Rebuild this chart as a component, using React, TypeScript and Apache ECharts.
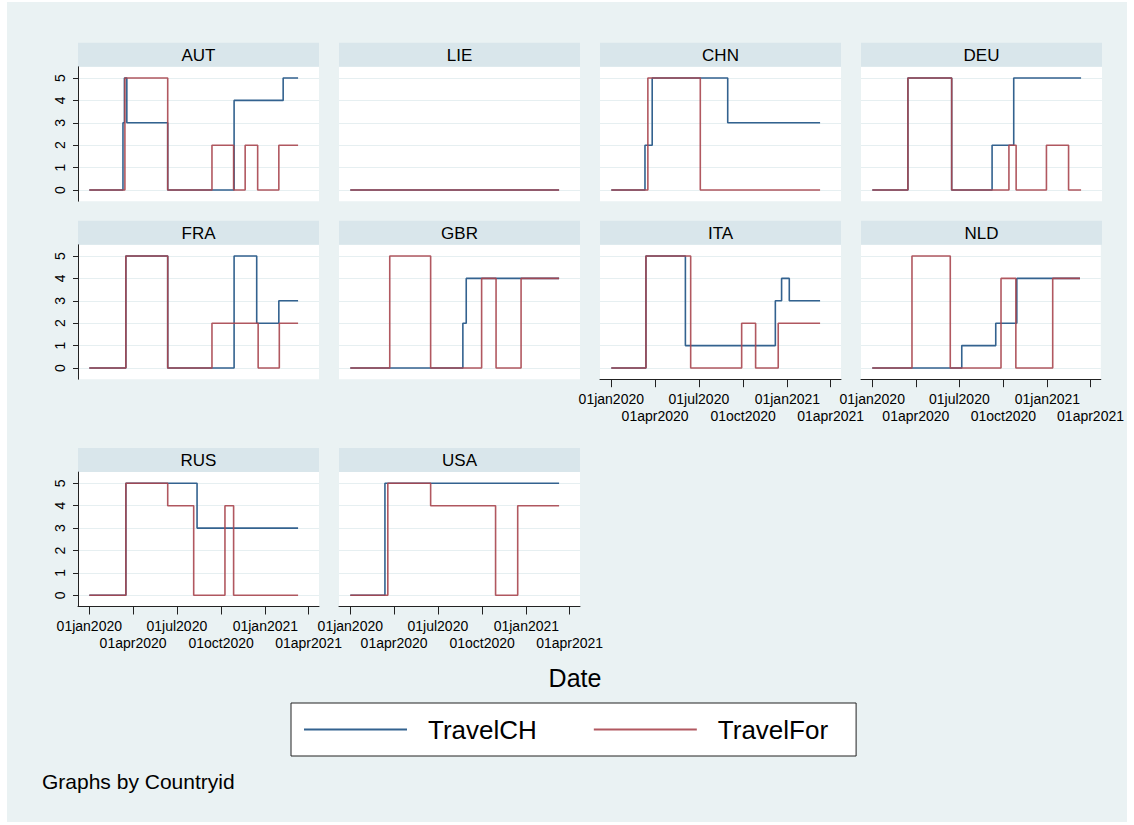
import React, { useEffect, useRef } from 'react';
import * as echarts from 'echarts';

// ---------- data ----------
const COUNTRIES = ['AUT', 'LIE', 'CHN', 'DEU', 'FRA', 'GBR', 'ITA', 'NLD', 'RUS', 'USA'];
const SERIES_NAMES = ['TravelCH', 'TravelFor'];
const START = '2020-01-01';
const END = '2021-03-10';
const X_TICK_DATES = ['2020-01-01', '2020-04-01', '2020-07-01', '2020-10-01', '2021-01-01', '2021-04-01'];
const X_TICK_LABELS = ['01jan2020', '01apr2020', '01jul2020', '01oct2020', '01jan2021', '01apr2021'];
const Y_TICKS = [0, 1, 2, 3, 4, 5];

type Pt = [string, number];
// each entry: [date the level starts, level]
const AUT_CH: Pt[] = [['2020-01-01', 0], ['2020-03-11', 3], ['2020-03-14', 5], ['2020-03-19', 3], ['2020-06-12', 0], ['2020-10-28', 4], ['2021-02-07', 5]];
const AUT_FOR: Pt[] = [['2020-01-01', 0], ['2020-03-15', 5], ['2020-06-12', 0], ['2020-09-12', 2], ['2020-10-27', 0], ['2020-11-20', 2], ['2020-12-16', 0], ['2021-01-29', 2]];
const LIE_CH: Pt[] = [['2020-01-01', 0]];
const LIE_FOR: Pt[] = [['2020-01-01', 0]];
const CHN_CH: Pt[] = [['2020-01-01', 0], ['2020-03-11', 2], ['2020-03-26', 5], ['2020-08-30', 3]];
const CHN_FOR: Pt[] = [['2020-01-01', 0], ['2020-03-17', 5], ['2020-07-04', 0]];
const DEU_CH: Pt[] = [['2020-01-01', 0], ['2020-03-15', 5], ['2020-06-14', 0], ['2020-09-06', 2], ['2020-10-21', 5]];
const DEU_FOR: Pt[] = [['2020-01-01', 0], ['2020-03-15', 5], ['2020-06-14', 0], ['2020-10-11', 2], ['2020-10-26', 0], ['2020-12-28', 2], ['2021-02-12', 0]];
const FRA_CH: Pt[] = [['2020-01-01', 0], ['2020-03-17', 5], ['2020-06-12', 0], ['2020-10-28', 5], ['2020-12-14', 2], ['2021-01-29', 3]];
const FRA_FOR: Pt[] = [['2020-01-01', 0], ['2020-03-17', 5], ['2020-06-12', 0], ['2020-09-12', 2], ['2020-12-17', 0], ['2021-01-30', 2]];
const GBR_CH: Pt[] = [['2020-01-01', 0], ['2020-08-22', 2], ['2020-08-29', 4]];
const GBR_FOR: Pt[] = [['2020-01-01', 0], ['2020-03-23', 5], ['2020-06-16', 0], ['2020-09-30', 4], ['2020-10-30', 0], ['2020-12-21', 4]];
const ITA_CH: Pt[] = [['2020-01-01', 0], ['2020-03-13', 5], ['2020-06-03', 1], ['2020-12-07', 3], ['2020-12-20', 4], ['2021-01-05', 3]];
const ITA_FOR: Pt[] = [['2020-01-01', 0], ['2020-03-13', 5], ['2020-06-14', 0], ['2020-09-28', 2], ['2020-10-27', 0], ['2020-12-13', 2]];
const NLD_CH: Pt[] = [['2020-01-01', 0], ['2020-07-06', 1], ['2020-09-15', 2], ['2020-10-29', 4]];
const NLD_FOR: Pt[] = [['2020-01-01', 0], ['2020-03-24', 5], ['2020-06-12', 0], ['2020-09-26', 4], ['2020-10-27', 0], ['2021-01-12', 4]];
const RUS_CH: Pt[] = [['2020-01-01', 0], ['2020-03-17', 5], ['2020-08-12', 3]];
const RUS_FOR: Pt[] = [['2020-01-01', 0], ['2020-03-17', 5], ['2020-06-12', 4], ['2020-08-05', 0], ['2020-10-09', 4], ['2020-10-27', 0]];
const USA_CH: Pt[] = [['2020-01-01', 0], ['2020-03-13', 5]];
const USA_FOR: Pt[] = [['2020-01-01', 0], ['2020-03-19', 5], ['2020-06-16', 4], ['2020-10-29', 0], ['2020-12-14', 4]];

const TRAVEL_CH: Pt[][] = [AUT_CH, LIE_CH, CHN_CH, DEU_CH, FRA_CH, GBR_CH, ITA_CH, NLD_CH, RUS_CH, USA_CH];
const TRAVEL_FOR: Pt[][] = [AUT_FOR, LIE_FOR, CHN_FOR, DEU_FOR, FRA_FOR, GBR_FOR, ITA_FOR, NLD_FOR, RUS_FOR, USA_FOR];

// ---------- layout / style ----------
const OX = 7;
const OY = 2;
const FONT = "'Liberation Sans', Arial, Helvetica, sans-serif";
const COL_LEFT = [78, 339, 600, 861];
const COL_W = 241;
const ROW_TOP = [66.8, 244.8, 472.1];
const ROW_H = 134.4;
const STRIP_H = 24;
const X_MIN = -23.5;
const X_MAX = 477.5;
const C_CH = '#33628f';
const C_FOR = '#a9464f';
const BG = '#eaf2f3';
const STRIP = '#d9e6eb';
const TICK_FS = 14;

const dayOf = (s: string) =>
  (Date.parse(s + 'T00:00:00Z') - Date.parse(START + 'T00:00:00Z')) / 86400000;
const toSteps = (pts: Pt[]) => {
  const d: number[][] = pts.map(([s, v]) => [dayOf(s), v]);
  d.push([dayOf(END), pts[pts.length - 1][1]]);
  return d;
};

export default function App() {
  const ref = useRef<HTMLDivElement>(null);
  useEffect(() => {
    if (!ref.current) return;
    const chart = echarts.init(ref.current, undefined, { renderer: 'svg' });
    const xTickDays = X_TICK_DATES.map(dayOf);
    const evenDays = xTickDays.filter((_, k) => k % 2 === 0);
    const oddDays = xTickDays.filter((_, k) => k % 2 === 1);
    const fmt = (v: number) => {
      const k = xTickDays.findIndex((t) => Math.abs(t - v) < 0.5);
      return k < 0 ? '' : X_TICK_LABELS[k];
    };
    const grids: any[] = [];
    const xAxes: any[] = [];
    const extraX: any[] = [];
    const yAxes: any[] = [];
    const series: any[] = [];
    const graphics: any[] = [];

    COUNTRIES.forEach((name, i) => {
      const r = Math.floor(i / 4);
      const c = i % 4;
      const left = COL_LEFT[c] - OX;
      const top = ROW_TOP[r] - OY;
      const showX = i + 4 >= COUNTRIES.length;
      const showY = c === 0;
      grids.push({ left, top, width: COL_W, height: ROW_H, show: true, backgroundColor: '#fff', borderWidth: 0 });
      xAxes.push({
        type: 'value', gridIndex: i, min: X_MIN, max: X_MAX, show: showX, position: 'bottom',
        axisLine: { show: true, onZero: false, lineStyle: { color: '#222', width: 1 } },
        axisTick: { show: true, length: 8, customValues: xTickDays, lineStyle: { color: '#222', width: 1 } },
        axisLabel: {
          show: true, customValues: evenDays, margin: 11, fontSize: TICK_FS, lineHeight: 17,
          color: '#000', fontFamily: FONT, formatter: fmt,
        },
        splitLine: { show: false },
      });
      if (showX) {
        // second row of staggered date labels
        extraX.push({
          type: 'value', gridIndex: i, min: X_MIN, max: X_MAX, position: 'bottom', offset: 0,
          axisLine: { show: false, onZero: false },
          axisTick: { show: false },
          axisLabel: {
            show: true, customValues: oddDays, margin: 28, fontSize: TICK_FS, lineHeight: 17,
            color: '#000', fontFamily: FONT, formatter: fmt,
          },
          splitLine: { show: false },
        });
      }
      yAxes.push({
        type: 'value', gridIndex: i, min: -0.5, max: 5.5,
        axisLine: { show: showY, onZero: false, lineStyle: { color: '#222', width: 1 } },
        axisTick: { show: showY, length: 5, customValues: Y_TICKS, lineStyle: { color: '#222', width: 1 } },
        axisLabel: { show: showY, customValues: Y_TICKS, rotate: 90, margin: 11, fontSize: TICK_FS, color: '#000', fontFamily: FONT },
        splitLine: { show: true, lineStyle: { color: '#e6eff1', width: 1 } },
      });
      [TRAVEL_CH[i], TRAVEL_FOR[i]].forEach((pts, s) => {
        const col = s === 0 ? C_CH : C_FOR;
        series.push({
          type: 'line', name: SERIES_NAMES[s], xAxisIndex: i, yAxisIndex: i,
          step: 'end', symbol: 'none', showSymbol: false,
          data: toSteps(pts), color: col,
          lineStyle: { color: col, width: 1.6, opacity: s === 1 ? 0.9 : 1 },
          z: 2 + s,
        });
      });
      graphics.push({
        type: 'rect', shape: { x: left, y: top - STRIP_H, width: COL_W, height: STRIP_H },
        style: { fill: STRIP }, silent: true,
      });
      graphics.push({
        type: 'text', x: left + COL_W / 2, y: top - STRIP_H / 2 + 0.5,
        style: { text: name, fontSize: 17, fontFamily: FONT, fill: '#000', align: 'center', verticalAlign: 'middle' },
        silent: true,
      });
    });

    graphics.push({
      type: 'text', x: 575 - OX, y: 678 - OY,
      style: { text: 'Date', fontSize: 25, fontFamily: FONT, fill: '#000', align: 'center', verticalAlign: 'middle' },
    });
    graphics.push({
      type: 'text', x: 42 - OX, y: 781 - OY,
      style: { text: 'Graphs by Countryid', fontSize: 21, fontFamily: FONT, fill: '#000', align: 'left', verticalAlign: 'middle' },
    });

    chart.setOption({
      animation: false,
      backgroundColor: BG,
      grid: grids,
      xAxis: xAxes.concat(extraX),
      yAxis: yAxes,
      series,
      graphic: { elements: graphics },
      legend: {
        data: SERIES_NAMES,
        left: 291 - OX, top: 703 - OY,
        orient: 'horizontal',
        backgroundColor: '#fff', borderColor: '#222', borderWidth: 1, borderRadius: 0,
        padding: [13, 28, 13, 12],
        itemWidth: 103, itemHeight: 14, itemGap: 56,
        itemStyle: { opacity: 0, borderWidth: 0 },
        lineStyle: { width: 2 },
        textStyle: { fontSize: 26, fontFamily: FONT, color: '#000', padding: [0, 0, 0, 16], lineHeight: 27 },
      },
    });
    return () => chart.dispose();
  }, []);
  return (
    <div style={{ position: 'fixed', left: 0, top: 0, width: 1134, height: 825, background: '#fff' }}>
      <div ref={ref} style={{ position: 'absolute', left: OX, top: OY, width: 1120, height: 820 }} />
    </div>
  );
}
